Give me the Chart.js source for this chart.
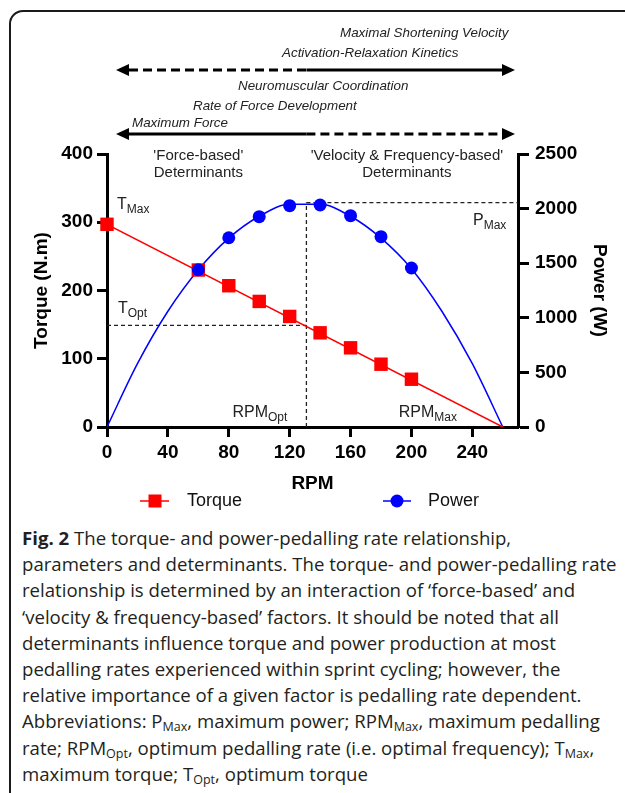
<!DOCTYPE html>
<html>
<head>
<meta charset="utf-8">
<script src="https://cdn.jsdelivr.net/npm/chart.js@4.4.0/dist/chart.umd.min.js"></script>
<style>
  html, body { margin: 0; padding: 0; background: #fff; }
  #wrap { position: relative; width: 625px; height: 793px; overflow: hidden; }
  #frame { position: absolute; left: 9px; top: 10px; width: 700px; height: 900px;
           border: 2px solid #1a1a1a; border-radius: 14px; }
  #chart { position: absolute; left: 0; top: 0; }
  #caption { position: absolute; left: 22px; top: 525px; font-family: "Open Sans", sans-serif;
             font-size: 18.6px; line-height: 26.2px; color: #231f20; white-space: nowrap; }
  #caption b { font-weight: 700; }
  #caption sub { font-size: 12.5px; vertical-align: -3px; line-height: 0; }
</style>
</head>
<body>
<div id="wrap">
  <div id="frame"></div>
  <canvas id="chart" width="625" height="520"></canvas>
  <div id="caption">
    <b>Fig. 2</b> The torque- and power-pedalling rate relationship,<br>
    parameters and determinants. The torque- and power-pedalling rate<br>
    relationship is determined by an interaction of ‘force-based’ and<br>
    ‘velocity &amp; frequency-based’ factors. It should be noted that all<br>
    determinants influence torque and power production at most<br>
    pedalling rates experienced within sprint cycling; however, the<br>
    relative importance of a given factor is pedalling rate dependent.<br>
    Abbreviations: P<sub>Max</sub>, maximum power; RPM<sub>Max</sub>, maximum pedalling<br>
    rate; RPM<sub>Opt</sub>, optimum pedalling rate (i.e. optimal frequency); T<sub>Max</sub>,<br>
    maximum torque; T<sub>Opt</sub>, optimum torque
  </div>
</div>
<script>
// measured points
const rpm = [0, 60, 80, 100, 120, 140, 160, 180, 200];
const torque = [297, 230, 207, 184, 162, 138, 116, 92, 70];
const powerRpm = [60, 80, 100, 120, 140, 160, 180, 200];
const power = [1440, 1733, 1926, 2027, 2033, 1935, 1743, 1456];

// fitted power curve
const fitRpm = [0, 20, 40, 60, 80, 100, 120, 140, 160, 180, 200, 220, 240, 260];
const fitPower = [0, 580, 1060, 1440, 1730, 1930, 2040, 2040, 1930, 1730, 1450, 1060, 580, 0];

// parameters
const T_MAX = 297, RPM_MAX = 260, RPM_OPT = 131, T_OPT = 149, P_MAX = 2055;

const xTicks = [0, 40, 80, 120, 160, 200, 240];

const FONT = '"Liberation Sans", Arial, sans-serif';
const RED = '#ff0000', BLUE = '#0000ff';

const toXY = (xs, ys) => xs.map((x, i) => ({ x: x, y: ys[i] }));

function subText(ctx, main, sub, x, y, size) {
  ctx.font = size + 'px ' + FONT;
  ctx.fillText(main, x, y);
  const w = ctx.measureText(main).width;
  ctx.font = Math.round(size * 0.75) + 'px ' + FONT;
  ctx.fillText(sub, x + w, y + 4);
}

function arrow(ctx, x1, xm, x2, y, dashLeft) {
  const head = 13;
  ctx.save();
  ctx.strokeStyle = '#000';
  ctx.fillStyle = '#000';
  ctx.lineWidth = 3;
  ctx.setLineDash(dashLeft ? [9, 5] : []);
  ctx.beginPath(); ctx.moveTo(x1 + head, y); ctx.lineTo(xm, y); ctx.stroke();
  ctx.setLineDash(dashLeft ? [] : [9, 5]);
  ctx.beginPath(); ctx.moveTo(xm, y); ctx.lineTo(x2 - head, y); ctx.stroke();
  ctx.setLineDash([]);
  ctx.beginPath(); ctx.moveTo(x1, y); ctx.lineTo(x1 + head, y - 6); ctx.lineTo(x1 + head, y + 6); ctx.closePath(); ctx.fill();
  ctx.beginPath(); ctx.moveTo(x2, y); ctx.lineTo(x2 - head, y - 6); ctx.lineTo(x2 - head, y + 6); ctx.closePath(); ctx.fill();
  ctx.restore();
}

// labels and arrows above the plot, plus text notes inside it
const notesPlugin = {
  id: 'notes',
  afterDatasetsDraw(chart) {
    const ctx = chart.ctx;
    const xs = chart.scales.x, ys = chart.scales.y, yp = chart.scales.y1;
    const area = chart.chartArea;
    ctx.save();
    ctx.fillStyle = '#222';
    ctx.textBaseline = 'alphabetic';

    // determinant arrows
    const xl = xs.getPixelForValue(0) + 9, xm = xs.getPixelForValue(RPM_OPT), xr = area.right - 3;
    ctx.font = 'italic 13.4px ' + FONT;
    ctx.textAlign = 'left';
    ctx.fillText('Maximal Shortening Velocity', 340, 37);
    ctx.fillText('Activation-Relaxation Kinetics', 282, 57);
    arrow(ctx, xl, xm, xr, 70, true);
    ctx.fillText('Neuromuscular Coordination', 238, 90);
    ctx.fillText('Rate of Force Development', 193, 110);
    ctx.fillText('Maximum Force', 132, 127);
    arrow(ctx, xl, xm, xr, 134, false);

    // region headings
    ctx.font = '15px ' + FONT;
    ctx.textAlign = 'center';
    ctx.fillText("'Force-based'", xs.getPixelForValue(60), area.top + 6);
    ctx.fillText('Determinants', xs.getPixelForValue(60), area.top + 23);
    ctx.fillText("'Velocity & Frequency-based'", xs.getPixelForValue(197), area.top + 6);
    ctx.fillText('Determinants', xs.getPixelForValue(197), area.top + 23);

    ctx.textAlign = 'left';
    subText(ctx, 'T', 'Max', xs.getPixelForValue(0) + 10, ys.getPixelForValue(T_MAX) - 15, 16);
    subText(ctx, 'T', 'Opt', xs.getPixelForValue(0) + 11, ys.getPixelForValue(T_OPT) - 12, 16);
    subText(ctx, 'RPM', 'Opt', xs.getPixelForValue(RPM_OPT) - 74, area.bottom - 10, 16);
    subText(ctx, 'RPM', 'Max', xs.getPixelForValue(RPM_MAX) - 104, area.bottom - 10, 16);
    subText(ctx, 'P', 'Max', area.right - 45, yp.getPixelForValue(P_MAX) + 22, 16);
    ctx.restore();
  },
  afterDraw(chart) {
    // legend: line with marker in the middle
    const ctx = chart.ctx;
    const y = chart.chartArea.bottom + 74;
    ctx.save();
    ctx.lineWidth = 1.5;
    ctx.strokeStyle = RED; ctx.fillStyle = RED;
    ctx.beginPath(); ctx.moveTo(140, y); ctx.lineTo(169, y); ctx.stroke();
    ctx.fillRect(155 - 6.5, y - 6.5, 13, 13);
    ctx.strokeStyle = BLUE; ctx.fillStyle = BLUE;
    ctx.beginPath(); ctx.moveTo(383, y); ctx.lineTo(411, y); ctx.stroke();
    ctx.beginPath(); ctx.arc(397, y, 6.5, 0, Math.PI * 2); ctx.fill();
    ctx.fillStyle = '#111';
    ctx.font = '18px ' + FONT;
    ctx.textBaseline = 'middle';
    ctx.fillText('Torque', 187, y);
    ctx.fillText('Power', 428, y);
    ctx.restore();
  }
};

const axisCommon = {
  grid: { drawOnChartArea: false, drawTicks: true, tickLength: 10, tickWidth: 3, tickColor: '#000' },
  border: { display: true, color: '#000', width: 3 },
};
const tickFont = { family: FONT, size: 19, weight: 'bold' };
const titleFont = { family: FONT, size: 19, weight: 'bold' };
const plain = (v) => String(v);

new Chart(document.getElementById('chart'), {
  type: 'scatter',
  data: {
    datasets: [
      {
        label: 'Torque',
        data: toXY(rpm, torque),
        yAxisID: 'y',
        showLine: false,
        pointStyle: 'rect',
        pointRadius: 9.5,
        pointHoverRadius: 9.5,
        backgroundColor: RED,
        borderColor: RED,
        borderWidth: 0,
        clip: false,
        order: 1
      },
      {
        label: 'Power',
        data: toXY(powerRpm, power),
        yAxisID: 'y1',
        showLine: false,
        pointStyle: 'circle',
        pointRadius: 6.5,
        pointHoverRadius: 6.5,
        backgroundColor: BLUE,
        borderColor: BLUE,
        borderWidth: 0,
        clip: false,
        order: 0
      },
      {
        label: 'Torque fit',
        data: [{ x: 0, y: T_MAX }, { x: RPM_MAX, y: 0 }],
        yAxisID: 'y',
        showLine: true,
        pointRadius: 0,
        borderColor: RED,
        borderWidth: 1.5,
        order: 3
      },
      {
        label: 'Power fit',
        data: toXY(fitRpm, fitPower),
        yAxisID: 'y1',
        showLine: true,
        pointRadius: 0,
        borderColor: BLUE,
        borderWidth: 1.5,
        cubicInterpolationMode: 'monotone',
        order: 3
      },
      {
        label: 'T opt',
        data: [{ x: 0, y: T_OPT }, { x: RPM_OPT, y: T_OPT }],
        yAxisID: 'y',
        showLine: true,
        pointRadius: 0,
        borderColor: '#222',
        borderWidth: 1.3,
        borderDash: [4, 3],
        order: 4
      },
      {
        label: 'RPM opt',
        data: [{ x: RPM_OPT, y: 0 }, { x: RPM_OPT, y: P_MAX }],
        yAxisID: 'y1',
        showLine: true,
        pointRadius: 0,
        borderColor: '#222',
        borderWidth: 1.3,
        borderDash: [4, 3],
        order: 4
      },
      {
        label: 'P max',
        data: [{ x: RPM_OPT, y: P_MAX }, { x: 270, y: P_MAX }],
        yAxisID: 'y1',
        showLine: true,
        pointRadius: 0,
        borderColor: '#222',
        borderWidth: 1.3,
        borderDash: [4, 3],
        order: 4
      }
    ]
  },
  options: {
    responsive: false,
    animation: false,
    devicePixelRatio: 1,
    layout: { padding: { top: 154, left: 0, right: 0, bottom: 25 } },
    plugins: { legend: { display: false }, tooltip: { enabled: false } },
    scales: {
      x: {
        type: 'linear',
        position: 'bottom',
        min: 0,
        max: 270,
        afterBuildTicks: (s) => { s.ticks = xTicks.map(v => ({ value: v })); },
        afterFit: (s) => { s.height = 68; },
        ...axisCommon,
        ticks: { color: '#000', font: tickFont, padding: 4, maxRotation: 0, autoSkip: false, callback: plain },
        title: { display: true, text: 'RPM', color: '#000', font: titleFont, padding: 0 }
      },
      y: {
        type: 'linear',
        position: 'left',
        min: 0,
        max: 400,
        afterFit: (s) => { s.width = 107; },
        ...axisCommon,
        ticks: { color: '#000', font: tickFont, stepSize: 100, padding: 4, callback: plain },
        title: { display: true, text: 'Torque (N.m)', color: '#000', font: titleFont, padding: { top: 30, bottom: 0 } }
      },
      y1: {
        type: 'linear',
        position: 'right',
        min: 0,
        max: 2500,
        afterFit: (s) => { s.width = 107; },
        ...axisCommon,
        grid: { drawOnChartArea: false, drawTicks: true, tickLength: 11, tickWidth: 3, tickColor: '#000' },
        ticks: { color: '#000', font: tickFont, stepSize: 500, padding: 6, callback: plain },
        title: { display: true, text: 'Power (W)', color: '#000', font: titleFont, padding: { top: 14, bottom: 0 } }
      }
    }
  },
  plugins: [notesPlugin]
});
</script>
</body>
</html>
